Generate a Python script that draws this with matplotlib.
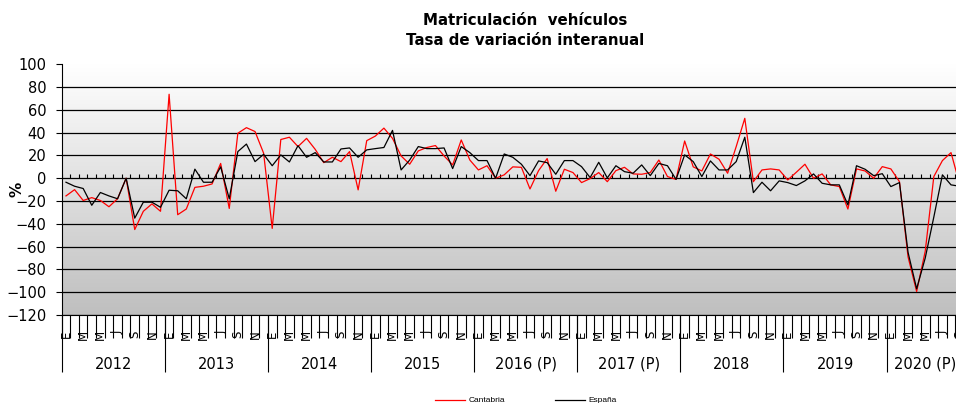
import numpy as np
import matplotlib.pyplot as plt
from matplotlib.colors import LinearSegmentedColormap
from matplotlib.lines import Line2D

# Tasa de variacion interanual (%), enero 2012 - septiembre 2020
years = ['2012', '2013', '2014', '2015', '2016 (P)', '2017 (P)', '2018', '2019', '2020 (P)']
month_letters = ['E', 'F', 'M', 'A', 'M', 'J', 'J', 'A', 'S', 'O', 'N', 'D']

cantabria = [
    -15.5, -10, -19.5, -17, -19.5, -25, -18, 0, -45, -29, -22.5, -29,          # 2012
    73.7, -32, -27, -8, -7, -5, 13, -26.5, 39.5, 44.4, 41, 22,                 # 2013
    -44, 34, 36, 27.8, 35, 25.4, 13.7, 18.4, 14.6, 23.4, -10.2, 33,            # 2014
    37, 44, 35, 19.6, 12.3, 24, 27, 28.7, 19.6, 11.7, 33.6, 16,                # 2015
    7.3, 11, 0, 3, 10, 9.6, -9.4, 6.7, 17.3, -11.4, 7.9, 5,                    # 2016
    -3.8, -0.3, 5, -3, 6.7, 9.6, 3.8, 3.5, 5, 16, 1.5, -1,                     # 2017
    32.7, 10, 6.4, 21.3, 16.7, 4.4, 27.8, 52.6, -3, 7.3, 8.2, 7.3,             # 2018
    -1.5, 5.3, 12.3, 0, 3.8, -5.8, -7.3, -27, 8.2, 6.4, 0, 10.2,               # 2019
    8.2, -3, -69, -99.4, -64, 1.5, 15.5, 22.5, -5,                             # 2020
]
espana = [
    -3.5, -7, -9, -23.7, -12.5, -15.5, -18, 0, -35, -21, -21, -25.5,
    -10.5, -11, -18, 8, -3.5, -3.5, 10, -18, 23.4, 30, 14.6, 21,
    11, 20.5, 14.3, 28.6, 18.4, 22.5, 14.3, 14.3, 25.7, 26.6, 18.4, 24.9,
    26, 27, 42, 7.3, 16, 27.8, 26, 26, 26.6, 8.5, 27.8, 22.5,
    15.5, 15.5, 0, 21.3, 18.4, 12.3, 2.3, 15.2, 13.7, 3.5, 15.5, 15.5,
    10.2, 0.6, 14, 0.3, 11, 5.8, 4.4, 11.7, 2.3, 13, 11, -1,
    20.5, 14.6, 1.5, 15.2, 7.3, 7.3, 14.6, 36, -12.6, -3.5, -11, -2.3,
    -3.8, -6.4, -2.3, 3.8, -4.4, -5.8, -5.8, -23.4, 11, 7.9, 2.3, 4,
    -7.3, -3.8, -65, -97, -70, -34, 3, -5.8, -7,
]

n = len(cantabria)
x = np.arange(n)
yticks = list(range(-120, 101, 20))

fig = plt.figure(figsize=(9.56, 4.03), dpi=100)
ax = fig.add_axes([61.7 / 956, 88 / 403, 902.2 / 956, 250.7 / 403])

# fondo degradado blanco -> gris
cmap = LinearSegmentedColormap.from_list('fondo', ['#ffffff', '#bfbfbf'])
grad = np.linspace(0, 1, 256).reshape(-1, 1)
ax.imshow(grad, cmap=cmap, aspect='auto', extent=(-0.5, n - 0.5, -120, 100),
          origin='upper', zorder=0, interpolation='bilinear')

for v in yticks[:-1]:
    ax.axhline(v, color='black' if v < 100 else '#8c8c8c', lw=0.9, zorder=1)

# marcas de meses sobre el eje 0
ax.vlines(np.arange(n) - 0.5, 0, 3.3, color='black', lw=0.8, zorder=2)

ax.plot(x, cantabria, color='#ff0000', lw=0.9, zorder=3)
ax.plot(x, espana, color='black', lw=0.9, zorder=4)

ax.set_xlim(-0.5, n - 0.5)
ax.set_ylim(-120, 100)
ax.set_yticks(yticks)
ax.tick_params(axis='y', length=4, width=0.8, pad=7, labelsize=10.5)
ax.set_ylabel('%', fontsize=11, fontweight='bold')
ax.yaxis.set_label_coords(-37 / 902, 0.5)

for s in ['top', 'right']:
    ax.spines[s].set_visible(False)
ax.spines['left'].set_linewidth(0.8)
ax.spines['bottom'].set_linewidth(0.8)

# eje de meses
ax.set_xticks(np.arange(n + 1) - 0.5)
ax.set_xticklabels([])
ax.tick_params(axis='x', which='major', length=16.5, width=0.8)
odd = [i for i in range(n) if i % 2 == 0]
ax.set_xticks(odd, minor=True)
ax.set_xticklabels([month_letters[i % 12] for i in odd], minor=True,
                   rotation=90, fontsize=8.5)
ax.tick_params(axis='x', which='minor', length=0, pad=11)

# eje de anos
ax2 = ax.twiny()
ax2.set_xlim(ax.get_xlim())
ax2.xaxis.set_ticks_position('bottom')
ax2.xaxis.set_label_position('bottom')
for s in ax2.spines.values():
    s.set_visible(False)
bounds = [min(12 * k, n) - 0.5 for k in range(len(years) + 1)]
ax2.set_xticks(bounds)
ax2.set_xticklabels([])
ax2.tick_params(axis='x', which='major', length=41, width=0.8)
centers = [(bounds[k] + bounds[k + 1]) / 2 for k in range(len(years))]
ax2.set_xticks(centers, minor=True)
ax2.set_xticklabels(years, minor=True, fontsize=10.5)
ax2.tick_params(axis='x', which='minor', length=0, pad=30)

fig.text(0.549, 0.95, 'Matriculación  vehículos', ha='center', va='center',
         fontsize=10.8, fontweight='bold')
fig.text(0.549, 0.9, 'Tasa de variación interanual', ha='center', va='center',
         fontsize=10.8, fontweight='bold')

handles = [Line2D([], [], color='#ff0000', lw=0.9), Line2D([], [], color='black', lw=0.9)]
fig.legend(handles, ['Cantabria', 'España'], loc='center', bbox_to_anchor=(0.55, 0.006),
           ncol=2, frameon=False, prop={'family': 'Liberation Sans', 'size': 6},
           handlelength=3.6, columnspacing=6, handletextpad=0.4)

fig.savefig('out.png', dpi=100)
